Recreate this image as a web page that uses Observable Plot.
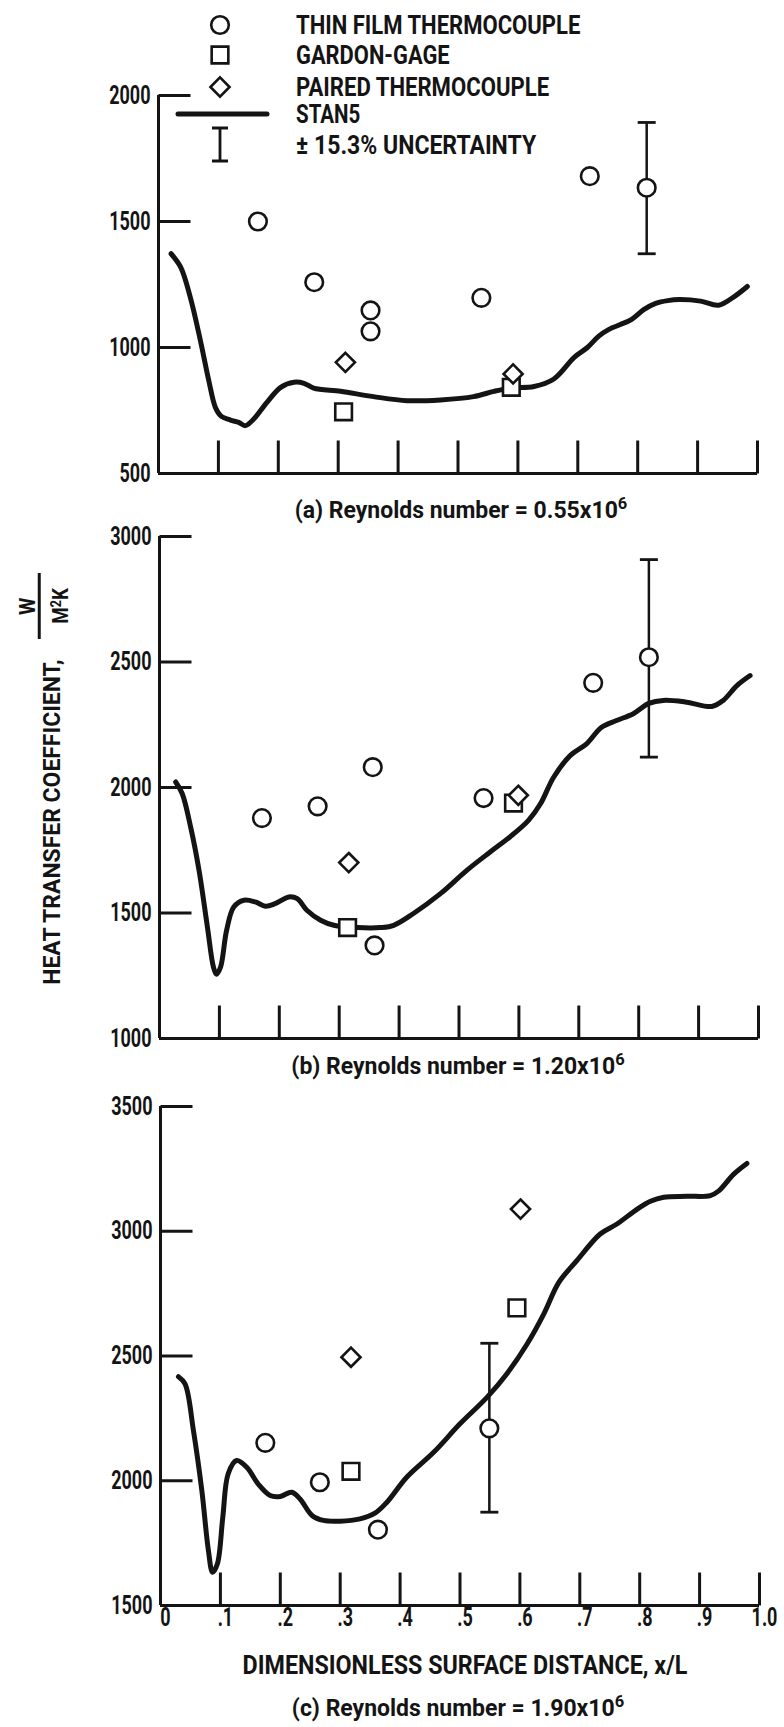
<!DOCTYPE html>
<html><head><meta charset="utf-8">
<script src="https://cdn.jsdelivr.net/npm/d3@7"></script>
<script src="https://cdn.jsdelivr.net/npm/@observablehq/plot@0.6"></script>
<style>
html,body{margin:0;padding:0;background:#fff;}
#root{position:relative;width:784px;height:1727px;overflow:hidden;background:#fff;font-family:Roboto,"Liberation Sans",Arial,sans-serif;font-weight:700;color:#141414;}
.abs{position:absolute;white-space:nowrap;line-height:1;}
sup{font-size:0.72em;vertical-align:0.5em;line-height:0;}
</style></head><body><div id="root"></div>
<script>
// ---------- data ----------
const xTickValues = [0.1,0.2,0.3,0.4,0.5,0.6,0.7,0.8,0.9,1.0];
const xLabelValues = [0,0.1,0.2,0.3,0.4,0.5,0.6,0.7,0.8,0.9,1.0];
const xLabelTexts = ["0",".1",".2",".3",".4",".5",".6",".7",".8",".9","1.0"];

// panel (a) Re = 0.55e6
const aYTicks = [500,1000,1500,2000];
const aCurveX = [0.021,0.037,0.053,0.070,0.084,0.095,0.104,0.120,0.134,0.145,0.159,0.181,0.204,0.226,0.243,0.259,0.304,0.359,0.415,0.471,0.526,0.560,0.588,0.627,0.660,0.694,0.716,0.735,0.752,0.770,0.790,0.810,0.830,0.850,0.870,0.905,0.935,0.960,0.983];
const aCurveY = [1372,1319,1200,1027,868,762,729,712,703,690,716,782,842,862,858,839,826,805,789,792,805,826,839,845,875,961,1000,1045,1072,1090,1112,1150,1175,1186,1190,1184,1168,1200,1242];
const aCircX = [0.166,0.260,0.354,0.354,0.539,0.720,0.815];
const aCircY = [1500,1259,1147,1064,1197,1680,1634];
const aSqX = [0.309,0.589], aSqY = [745,842];
const aDiaX = [0.312,0.592], aDiaY = [941,895];
const aErrX = [0.815], aErrLo = [1372], aErrHi = [1893];

// panel (b) Re = 1.20e6
const bYTicks = [1000,1500,2000,2500,3000];
const bCurveX = [0.027,0.038,0.052,0.066,0.080,0.090,0.095,0.102,0.112,0.124,0.141,0.160,0.177,0.193,0.216,0.230,0.246,0.269,0.291,0.330,0.369,0.391,0.424,0.469,0.513,0.552,0.585,0.616,0.636,0.658,0.686,0.713,0.738,0.763,0.791,0.817,0.841,0.880,0.922,0.941,0.964,0.986];
const bCurveY = [2022,1975,1842,1670,1444,1285,1256,1285,1431,1524,1551,1544,1527,1537,1564,1557,1511,1471,1451,1442,1442,1451,1498,1577,1670,1743,1803,1869,1935,2041,2128,2174,2240,2267,2294,2335,2347,2340,2323,2347,2406,2446];
const bCircX = [0.171,0.264,0.356,0.359,0.541,0.724,0.817];
const bCircY = [1878,1925,2081,1371,1958,2417,2519];
const bSqX = [0.314,0.591], bSqY = [1442,1938];
const bDiaX = [0.316,0.599], bDiaY = [1701,1969];
const bErrX = [0.817], bErrLo = [2121], bErrHi = [2908];

// panel (c) Re = 1.90e6
const cYTicks = [1500,2000,2500,3000,3500];
const cCurveX = [0.030,0.041,0.055,0.069,0.080,0.087,0.095,0.104,0.113,0.127,0.144,0.163,0.183,0.200,0.219,0.233,0.253,0.272,0.300,0.333,0.358,0.378,0.411,0.456,0.500,0.545,0.578,0.612,0.640,0.665,0.695,0.734,0.762,0.796,0.818,0.840,0.879,0.918,0.932,0.957,0.979];
const cCurveY = [2417,2388,2201,1961,1720,1633,1667,1854,2028,2081,2054,1987,1941,1937,1954,1927,1861,1841,1838,1847,1870,1914,2014,2114,2228,2334,2428,2548,2669,2795,2882,2989,3029,3089,3120,3136,3140,3143,3162,3229,3272];
const cCircX = [0.175,0.266,0.363,0.549];
const cCircY = [2152,1994,1804,2210];
const cSqX = [0.318,0.595], cSqY = [2038,2693];
const cDiaX = [0.318,0.601], cDiaY = [2495,3089];
const cErrX = [0.549], cErrLo = [1874], cErrHi = [2551];

const legendLabels = ["THIN FILM THERMOCOUPLE","GARDON-GAGE","PAIRED THERMOCOUPLE","STAN5","\u00b1 15.3% UNCERTAINTY"];
const captions = ["(a) Reynolds number = 0.55x10","(b) Reynolds number = 1.20x10","(c) Reynolds number = 1.90x10"];
const xTitle = "DIMENSIONLESS SURFACE DISTANCE, x/L";
const yTitle = "HEAT TRANSFER COEFFICIENT,";

// ---------- drawing ----------
const INK = "#141414";
const FONT = 'Roboto, "Liberation Sans", Arial, sans-serif';
const SQUEEZE = 0.72;
const root = document.getElementById("root");

const tickUp = {draw(ctx, size){ const r = Math.sqrt(size/Math.PI); ctx.moveTo(0,0); ctx.lineTo(0,-r); }};
const tickRight = {draw(ctx, size){ const r = Math.sqrt(size/Math.PI); ctx.moveTo(0,0); ctx.lineTo(r,0); }};
const hCap = {draw(ctx, size){ const r = Math.sqrt(size/Math.PI); ctx.moveTo(-r,0); ctx.lineTo(r,0); }};

const zip = (xs, ys) => xs.map((x,i)=>({x, y: ys[i]}));

// narrow the type of a Plot text around its own anchor point
function condense(svg, k){
  svg.querySelectorAll("text").forEach(t => {
    const tr = t.getAttribute("transform");
    if (tr) t.setAttribute("transform", `${tr} scale(${k},1)`);
    else {
      const x = +(t.getAttribute("x") || 0), y = +(t.getAttribute("y") || 0);
      t.setAttribute("transform", `translate(${x},${y}) scale(${k},1) translate(${-x},${-y})`);
    }
  });
}

function panel(cfg){
  const err = cfg.errX.map((x,i)=>({x, lo: cfg.errLo[i], hi: cfg.errHi[i]}));
  const caps = err.flatMap(d => [{x:d.x, y:d.lo},{x:d.x, y:d.hi}]);
  const inner = cfg.yTicks.slice(1);
  const marks = [
    Plot.ruleX([0], {stroke: INK, strokeWidth: 3}),
    Plot.ruleY([cfg.yTicks[0]], {stroke: INK, strokeWidth: 3}),
    Plot.dot(xTickValues, {x: d => d, frameAnchor: "bottom", symbol: tickUp, r: 33, stroke: INK, strokeWidth: 3, fill: "none"}),
    Plot.dot(inner, {y: d => d, frameAnchor: "left", symbol: tickRight, r: 32, stroke: INK, strokeWidth: 3, fill: "none"}),
    Plot.line(zip(cfg.curveX, cfg.curveY), {x: "x", y: "y", curve: "catmull-rom", stroke: INK, strokeWidth: 5, strokeLinecap: "round", strokeLinejoin: "round"}),
    Plot.ruleX(err, {x: "x", y1: "lo", y2: "hi", stroke: INK, strokeWidth: 2.5}),
    Plot.dot(caps, {x: "x", y: "y", symbol: hCap, r: 9, stroke: INK, strokeWidth: 2.8, fill: "none"}),
    Plot.dot(zip(cfg.sqX, cfg.sqY), {x: "x", y: "y", symbol: "square", r: 9.4, stroke: INK, strokeWidth: 2.6, fill: "white"}),
    Plot.dot(zip(cfg.diaX, cfg.diaY), {x: "x", y: "y", symbol: "diamond2", r: 8.6, stroke: INK, strokeWidth: 2.6, fill: "white"}),
    Plot.dot(zip(cfg.circX, cfg.circY), {x: "x", y: "y", symbol: "circle", r: 8.8, stroke: INK, strokeWidth: 2.6, fill: "white"}),
    Plot.text(cfg.yTicks, {y: d => d, frameAnchor: "left", dx: -8, textAnchor: "end", text: d => String(d), fontSize: 25, fill: INK})
  ];
  if (cfg.showX) marks.push(
    Plot.text(xLabelValues, {x: d => d, frameAnchor: "bottom", dx: 5, dy: 20, text: (d,i) => xLabelTexts[i], fontSize: 25, fill: INK})
  );
  const svg = Plot.plot({
    width: 784, height: cfg.height,
    marginLeft: cfg.ml, marginRight: cfg.mr, marginTop: cfg.mt, marginBottom: cfg.mb,
    x: {domain:[0,1], axis: null},
    y: {domain: [cfg.yTicks[0], cfg.yTicks[cfg.yTicks.length-1]], axis: null},
    style: {fontFamily: FONT, fontSize: "25px", fontWeight: 700, color: INK, background: "transparent", overflow: "visible"},
    marks
  });
  const wrap = document.createElement("div");
  wrap.style.cssText = `position:absolute;left:0;top:${cfg.top}px;`;
  wrap.appendChild(svg);
  root.appendChild(wrap);
  condense(svg, SQUEEZE);
}

panel({top: 60, height: 425, ml: 158, mr: 27, mt: 35, mb: 12, yTicks: aYTicks,
  curveX: aCurveX, curveY: aCurveY, circX: aCircX, circY: aCircY, sqX: aSqX, sqY: aSqY, diaX: aDiaX, diaY: aDiaY,
  errX: aErrX, errLo: aErrLo, errHi: aErrHi, showX: false});
panel({top: 500, height: 550, ml: 159, mr: 26, mt: 36, mb: 12, yTicks: bYTicks,
  curveX: bCurveX, curveY: bCurveY, circX: bCircX, circY: bCircY, sqX: bSqX, sqY: bSqY, diaX: bDiaX, diaY: bDiaY,
  errX: bErrX, errLo: bErrLo, errHi: bErrHi, showX: false});
panel({top: 1070, height: 580, ml: 160, mr: 25, mt: 36, mb: 45, yTicks: cYTicks,
  curveX: cCurveX, curveY: cCurveY, circX: cCircX, circY: cCircY, sqX: cSqX, sqY: cSqY, diaX: cDiaX, diaY: cDiaY,
  errX: cErrX, errLo: cErrLo, errHi: cErrHi, showX: true});

// ---------- legend swatches ----------
const lg = d3.select(root).append("svg").attr("width", 784).attr("height", 180)
  .style("position","absolute").style("left","0").style("top","0").style("overflow","visible");
const sym = (type, r) => d3.symbol(type, Math.PI*r*r)();
lg.append("path").attr("d", sym(d3.symbolCircle, 8.8)).attr("transform","translate(220,25)").attr("fill","white").attr("stroke",INK).attr("stroke-width",2.6);
lg.append("path").attr("d", sym(d3.symbolSquare, 9.4)).attr("transform","translate(220,55)").attr("fill","white").attr("stroke",INK).attr("stroke-width",2.6);
lg.append("path").attr("d", sym(d3.symbolDiamond2, 8.6)).attr("transform","translate(220,87)").attr("fill","white").attr("stroke",INK).attr("stroke-width",2.6);
lg.append("path").attr("d","M178,114H267").attr("stroke",INK).attr("stroke-width",5).attr("stroke-linecap","round");
lg.append("path").attr("d","M220,128V161M212,128H228M212,161H228").attr("stroke",INK).attr("stroke-width",2.8).attr("fill","none");

// ---------- text ----------
function label(html, {left, top, size=25, width=null, scale=0.82, origin="left", rotate=0}){
  const d = document.createElement("div");
  d.className = "abs";
  d.innerHTML = html;
  d.style.left = left + "px"; d.style.top = top + "px"; d.style.fontSize = size + "px";
  root.appendChild(d);
  const s = width ? width / d.offsetWidth : scale;
  const rot = rotate ? ` rotate(${rotate}deg)` : "";
  if (origin === "left") { d.style.transform = `translate(0,-50%) scaleX(${s})`; d.style.transformOrigin = "left center"; }
  else { d.style.transform = `translate(-50%,-50%)${rot} scaleX(${s})`; d.style.transformOrigin = "center center"; }
  return d;
}
const legendY = [25,55,87,114,145];
const legendW = [284,154,253,64,240];
legendLabels.forEach((t,i) => label(t, {left: 296, top: legendY[i], width: legendW[i]}));

label(captions[0] + "<sup>6</sup>", {left: 461, top: 510, size: 24, origin: "center", width: 333});
label(captions[1] + "<sup>6</sup>", {left: 458, top: 1066, size: 24, origin: "center", width: 333});
label(captions[2] + "<sup>6</sup>", {left: 458, top: 1708, size: 24, origin: "center", width: 332});
label(xTitle, {left: 465, top: 1665, origin: "center", width: 445});

// y axis title (rotated)
label(yTitle, {left: 52, top: 822, size: 23, origin: "center", rotate: -90, width: 325});
const fr = document.createElement("div");
fr.className = "abs";
fr.style.cssText += `left:44px;top:606px;font-size:22px;transform:translate(-50%,-50%) rotate(-90deg);transform-origin:center center;display:flex;flex-direction:column;align-items:center;`;
fr.innerHTML = `<div style="transform:scaleX(0.9)">W</div><div style="width:66px;height:2.5px;background:${INK};margin:-1px 0 9px 0"></div><div style="transform:scaleX(0.85)">M<sup style="font-size:0.7em;vertical-align:0.45em">2</sup>K</div>`;
root.appendChild(fr);
</script></body></html>
